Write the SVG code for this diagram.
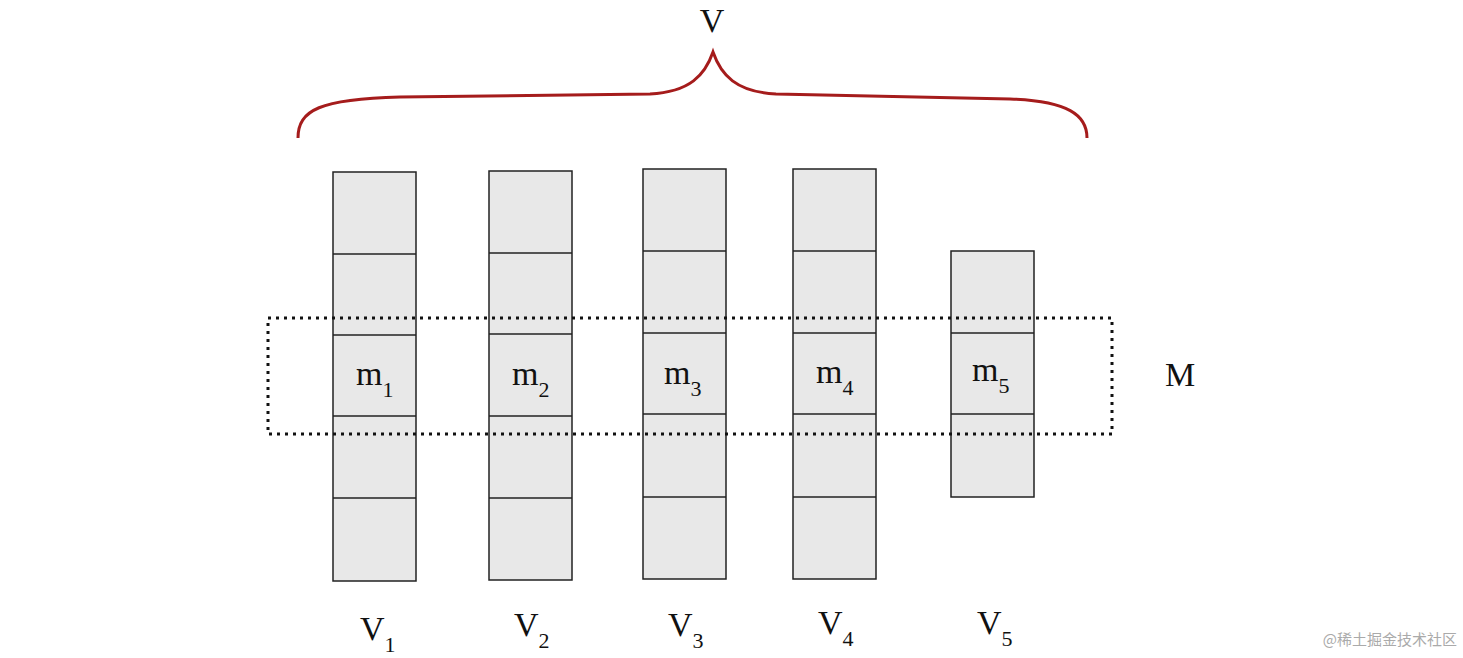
<svg xmlns="http://www.w3.org/2000/svg" width="1463" height="658" viewBox="0 0 1463 658">
<style>
.c{fill:#e8e8e8;stroke:#222;stroke-width:1.5}
.d{stroke:#222;stroke-width:1.5}
.t{font-family:"Liberation Serif",serif;font-size:34px;fill:#111}
.s{font-family:"Liberation Serif",serif;font-size:22px;fill:#111}
</style>
<rect width="1463" height="658" fill="#fff"/>
<g id="brace"><path d="M298,138 C298,110 320,99 400,97 L650,94 C690,92 705,75 713,52 C721,75 736,92 776,94 L1010,99 C1068,101 1087,115 1087,138" fill="none" stroke="#a51c1c" stroke-width="3"/>
<text class="t" x="712" y="32" text-anchor="middle">V</text></g>
<g id="V1"><rect class="c" x="333" y="172" width="83" height="409"/><path class="d" d="M333,254H416M333,335H416M333,416H416M333,498H416"/>
<text class="t" x="356" y="385">m<tspan class="s" dy="12">1</tspan></text>
<text class="t" x="360" y="640">V<tspan class="s" dy="12">1</tspan></text></g>
<g id="V2"><rect class="c" x="489" y="171" width="83" height="409"/><path class="d" d="M489,253H572M489,334H572M489,416H572M489,498H572"/>
<text class="t" x="512" y="385">m<tspan class="s" dy="12">2</tspan></text>
<text class="t" x="514" y="636">V<tspan class="s" dy="12">2</tspan></text></g>
<g id="V3"><rect class="c" x="643" y="169" width="83" height="410"/><path class="d" d="M643,251H726M643,333H726M643,414H726M643,497H726"/>
<text class="t" x="664" y="384">m<tspan class="s" dy="12">3</tspan></text>
<text class="t" x="668" y="636">V<tspan class="s" dy="12">3</tspan></text></g>
<g id="V4"><rect class="c" x="793" y="169" width="83" height="410"/><path class="d" d="M793,251H876M793,333H876M793,414H876M793,497H876"/>
<text class="t" x="816" y="383">m<tspan class="s" dy="12">4</tspan></text>
<text class="t" x="818" y="634">V<tspan class="s" dy="12">4</tspan></text></g>
<g id="V5"><rect class="c" x="951" y="251" width="83" height="246"/><path class="d" d="M951,333H1034M951,414H1034"/>
<text class="t" x="972" y="381">m<tspan class="s" dy="12">5</tspan></text>
<text class="t" x="977" y="634">V<tspan class="s" dy="12">5</tspan></text></g>
<g id="M"><rect x="268" y="318" width="844" height="116" fill="none" stroke="#111" stroke-width="3" stroke-dasharray="3,5"/>
<text class="t" x="1165" y="386">M</text></g>
<text x="1457" y="645" text-anchor="end" font-family="'Noto Sans CJK SC',sans-serif" font-size="15" fill="#aaa">@稀土掘金技术社区</text>
</svg>
